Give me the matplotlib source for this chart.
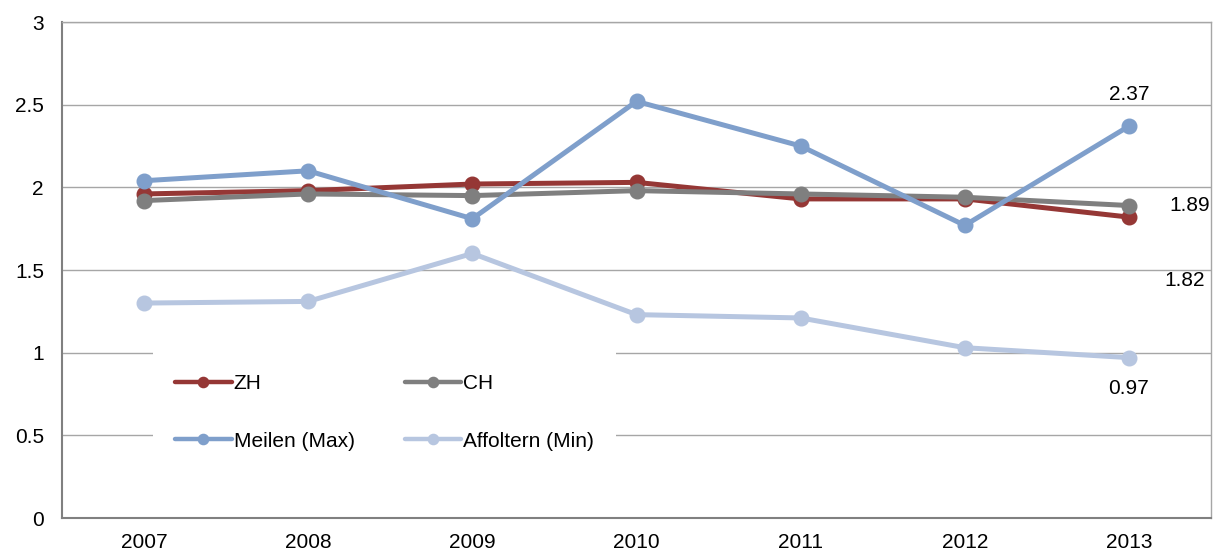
import matplotlib
matplotlib.use("Agg")
import matplotlib.pyplot as plt

years = ["2007", "2008", "2009", "2010", "2011", "2012", "2013"]
zh = [1.96, 1.98, 2.02, 2.03, 1.93, 1.93, 1.82]
ch = [1.92, 1.96, 1.95, 1.98, 1.96, 1.94, 1.89]
meilen = [2.04, 2.10, 1.81, 2.52, 2.25, 1.77, 2.37]
affoltern = [1.30, 1.31, 1.60, 1.23, 1.21, 1.03, 0.97]
yticks = [0, 0.5, 1, 1.5, 2, 2.5, 3]
ytick_labels = ["0", "0.5", "1", "1.5", "2", "2.5", "3"]

plt.rcParams['font.family'] = ['Liberation Sans', 'DejaVu Sans']
FS = 15

fig = plt.figure(figsize=(12.2, 5.53), dpi=100)
ax = fig.add_axes([62/1220, 35/553, (1211-62)/1220, (518-22)/553])

x = list(range(len(years)))
series = [
    (zh, "ZH", "#953735"),
    (ch, "CH", "#7f7f7f"),
    (meilen, "Meilen (Max)", "#7f9fcb"),
    (affoltern, "Affoltern (Min)", "#b7c6e0"),
]
lines = {}
for vals, name, col in series:
    l, = ax.plot(x, vals, color=col, lw=3.6, marker="o", ms=10.5, label=name,
                 solid_capstyle="round", zorder=3)
    lines[name] = l

ax.set_xlim(-0.5, 6.5)
ax.set_ylim(0, 3)
ax.set_yticks(yticks)
ax.set_yticklabels(ytick_labels)
ax.set_xticks(x)
ax.set_xticklabels(years)
ax.tick_params(length=0, labelsize=FS, colors="black")
ax.tick_params(axis="y", pad=13)
ax.tick_params(axis="x", pad=11)
ax.grid(axis="y", color="#a6a6a6", lw=1)
ax.set_axisbelow(True)
for s in ["left", "bottom"]:
    ax.spines[s].set_color("#808080")
    ax.spines[s].set_linewidth(1.5)
for s in ["top", "right"]:
    ax.spines[s].set_color("#a6a6a6")
    ax.spines[s].set_linewidth(1)

# data labels for 2013
ax.annotate(f"{meilen[6]:.2f}", (6, meilen[6]), xytext=(0, 16), textcoords="offset points",
            ha="center", va="bottom", fontsize=FS)
ax.annotate(f"{ch[6]:.2f}", (6, ch[6]), xytext=(44, 0), textcoords="offset points",
            ha="center", va="center", fontsize=FS)
ax.annotate(f"{zh[6]:.2f}", (6, zh[6]), xytext=(40, -46), textcoords="offset points",
            ha="center", va="center", fontsize=FS)
ax.annotate(f"{affoltern[6]:.2f}", (6, affoltern[6]), xytext=(0, -22), textcoords="offset points",
            ha="center", va="center", fontsize=FS)

# row-wise order: ZH, CH / Meilen, Affoltern (matplotlib fills column-first)
handles = [lines["ZH"], lines["Meilen (Max)"], lines["CH"], lines["Affoltern (Min)"]]
leg = ax.legend(handles=handles,
                ncol=2, loc="lower left", bbox_to_anchor=(81/1149, 35/496),
                frameon=True, fontsize=FS, handlelength=2.7, handletextpad=0.1,
                columnspacing=2.4, labelspacing=1.85, borderpad=1.05, markerscale=0.7)
leg.get_frame().set_edgecolor("none")
leg.get_frame().set_facecolor("white")
leg.get_frame().set_alpha(1)
leg.get_frame().set_boxstyle("square", pad=0)
for h in leg.legend_handles:
    h.set_linewidth(3.2)

fig.savefig("out.png", dpi=100)
